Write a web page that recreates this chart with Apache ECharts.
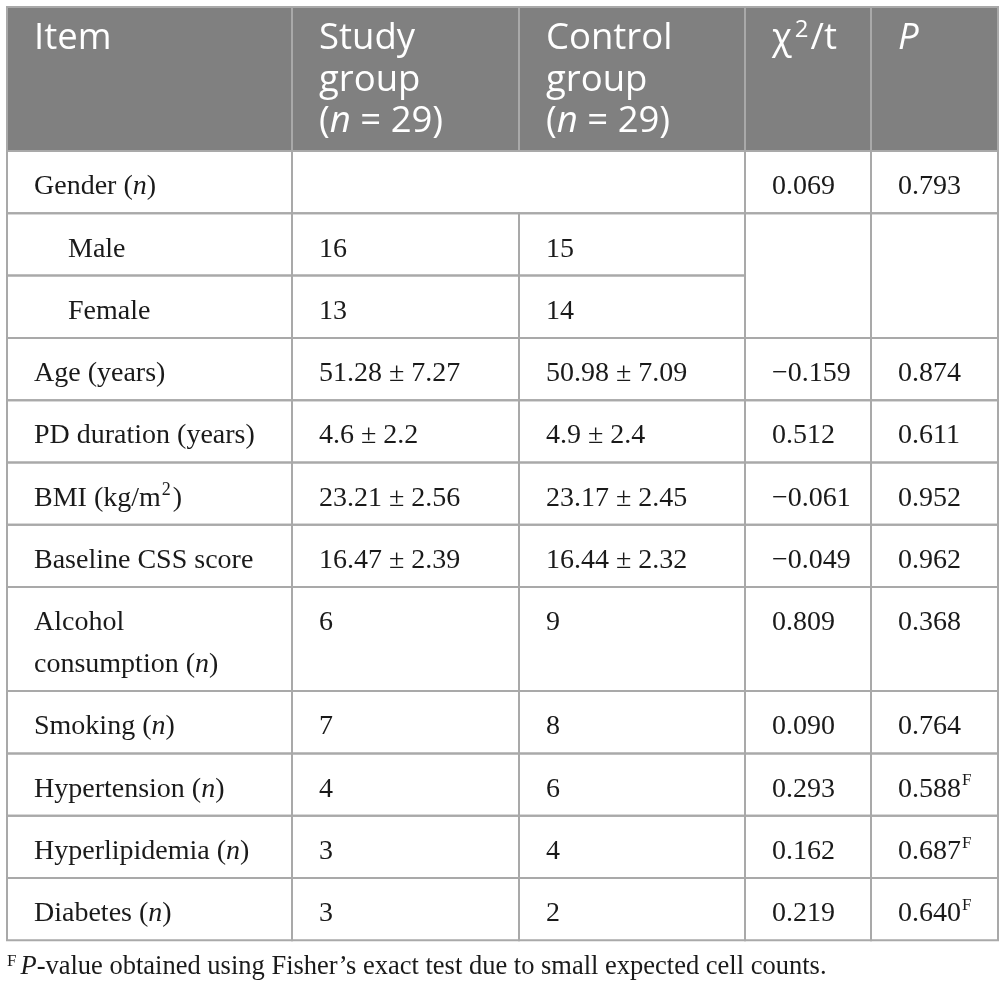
<!DOCTYPE html>
<html>
<head>
<meta charset="utf-8">
<script src="https://cdn.jsdelivr.net/npm/echarts@6/dist/echarts.min.js"></script>
<style>
  html, body { margin: 0; padding: 0; background: #fff; }
  #main { width: 1007px; height: 998px; }
</style>
</head>
<body>
<div id="main"></div>
<script>
// ---- table content ----
var headerLabels = ['Item', 'Study\ngroup\n({hi|n} = 29)', 'Control\ngroup\n({hi|n} = 29)', 'χ{hsup|2}/t', '{hi|P}'];
var items = ['Gender ({i|n})', 'Male', 'Female', 'Age (years)', 'PD duration (years)', 'BMI (kg/m{sup2|2})',
  'Baseline CSS score', 'Alcohol\nconsumption ({i|n})', 'Smoking ({i|n})', 'Hypertension ({i|n})',
  'Hyperlipidemia ({i|n})', 'Diabetes ({i|n})'];
var studyGroup = ['', '16', '13', '51.28 ± 7.27', '4.6 ± 2.2', '23.21 ± 2.56', '16.47 ± 2.39', '6', '7', '4', '3', '3'];
var controlGroup = ['', '15', '14', '50.98 ± 7.09', '4.9 ± 2.4', '23.17 ± 2.45', '16.44 ± 2.32', '9', '8', '6', '4', '2'];
var chiT = ['0.069', '', '', '−0.159', '0.512', '−0.061', '−0.049', '0.809', '0.090', '0.293', '0.162', '0.219'];
var pValues = ['0.793', '', '', '0.874', '0.611', '0.952', '0.962', '0.368', '0.764', '0.588', '0.687', '0.640'];
var pNotes = ['', '', '', '', '', '', '', '', '', 'F', 'F', 'F'];
var subRows = [1, 2];
// merged blocks: [row, col, rowSpan, colSpan]
var merges = [[0, 1, 1, 2], [1, 3, 2, 1], [1, 4, 2, 1]];
var footnote = '{fsup|F}{fi|P}-value obtained using Fisher’s exact test due to small expected cell counts.';

// ---- layout ----
var colWidths = [285, 227, 226, 126, 127];
var HEADER_H = 144, ROW_H = 62.3, LINE_H = 41.7;
var PAD = 27, SUB_PAD = 61;
var HEADER_BG = '#808080', BORDER = '#a9a9a9';
var SERIF = 'Liberation Serif', SANS = 'Open Sans';

var colEdges = [0];
colWidths.forEach(function (w) { colEdges.push(colEdges[colEdges.length - 1] + w); });
var rowEdges = [0, HEADER_H];
items.forEach(function (t) {
  var lines = t.split('\n').length;
  rowEdges.push(rowEdges[rowEdges.length - 1] + ROW_H + LINE_H * (lines - 1));
});
var tableW = colEdges[colEdges.length - 1];
var tableH = rowEdges[rowEdges.length - 1];

var cells = [];
headerLabels.forEach(function (t, c) {
  cells.push({ x0: colEdges[c], x1: colEdges[c + 1], y0: 0, y1: HEADER_H, text: t, header: true, pad: PAD });
});
function spanOf(r, c) {
  for (var i = 0; i < merges.length; i++) {
    var m = merges[i];
    if (r >= m[0] && r < m[0] + m[2] && c >= m[1] && c < m[1] + m[3]) {
      return (r === m[0] && c === m[1]) ? m : 'skip';
    }
  }
  return null;
}
items.forEach(function (item, r) {
  var p = pValues[r] + (pNotes[r] ? '{sup|' + pNotes[r] + '}' : '');
  var row = [item, studyGroup[r], controlGroup[r], chiT[r], p];
  row.forEach(function (t, c) {
    var m = spanOf(r, c);
    if (m === 'skip') return;
    var rs = m ? m[2] : 1, cs = m ? m[3] : 1;
    cells.push({
      x0: colEdges[c], x1: colEdges[c + cs],
      y0: rowEdges[r + 1], y1: rowEdges[r + 1 + rs],
      text: m ? '' : t, header: false,
      pad: (c === 0 && subRows.indexOf(r) >= 0) ? SUB_PAD : PAD
    });
  });
});

var bodyRich = {
  i: { fontFamily: SERIF, fontSize: 28, fontStyle: 'italic', fill: '#1a1a1a' },
  sup: { fontFamily: SERIF, fontSize: 17, fill: '#1a1a1a', verticalAlign: 'top', lineHeight: 17, padding: [4, 0, 0, 1] },
  sup2: { fontFamily: SERIF, fontSize: 18, fill: '#1a1a1a', verticalAlign: 'top', lineHeight: 18, padding: [4, 2, 0, 1] }
};
var headRich = {
  hi: { fontFamily: SANS, fontSize: 36.5, fontStyle: 'italic', fill: '#fff' },
  hsup: { fontFamily: SANS, fontSize: 24, fill: '#fff', verticalAlign: 'top', lineHeight: 24, padding: [0, 2, 0, 3] }
};

var chart = echarts.init(document.getElementById('main'));
chart.setOption({
  animation: false,
  grid: { left: 7, top: 7, width: tableW, height: tableH },
  xAxis: { type: 'value', min: 0, max: tableW, show: false },
  yAxis: { type: 'value', min: 0, max: tableH, inverse: true, show: false },
  series: [{
    type: 'custom',
    silent: true,
    data: cells.map(function (c) { return [c.x0, c.y0, c.x1, c.y1]; }),
    renderItem: function (params, api) {
      var c = cells[params.dataIndex];
      var a = api.coord([c.x0, c.y0]);
      var b = api.coord([c.x1, c.y1]);
      var shape = { x: a[0], y: a[1], width: b[0] - a[0], height: b[1] - a[1] };
      var kids = [
        { type: 'rect', shape: shape, z2: 0, style: { fill: c.header ? HEADER_BG : '#fff' } },
        { type: 'rect', shape: shape, z2: 10, style: { fill: 'none', stroke: BORDER, lineWidth: 2 } }
      ];
      if (c.text) {
        kids.push({
          type: 'text', z2: 20,
          x: a[0] + c.pad,
          y: a[1] + (c.header ? 11 : 15),
          style: c.header ? {
            text: c.text, rich: headRich, fill: '#fff', fontFamily: SANS, fontSize: 36.5,
            lineHeight: 41.5, verticalAlign: 'top', align: 'left'
          } : {
            text: c.text, rich: bodyRich, fill: '#1a1a1a', fontFamily: SERIF, fontSize: 28,
            lineHeight: 41.7, verticalAlign: 'top', align: 'left'
          }
        });
      }
      return { type: 'group', children: kids };
    }
  }],
  graphic: [{
    type: 'text', left: 7, top: 952, silent: true,
    style: {
      text: footnote, fill: '#1a1a1a', fontFamily: SERIF, fontSize: 26.5, lineHeight: 30,
      rich: {
        fsup: { fontFamily: SERIF, fontSize: 17, fill: '#1a1a1a', verticalAlign: 'top', lineHeight: 17, padding: [1, 4, 0, 0] },
        fi: { fontFamily: SERIF, fontSize: 26.5, fontStyle: 'italic', fill: '#1a1a1a' }
      }
    }
  }]
});
</script>
</body>
</html>
